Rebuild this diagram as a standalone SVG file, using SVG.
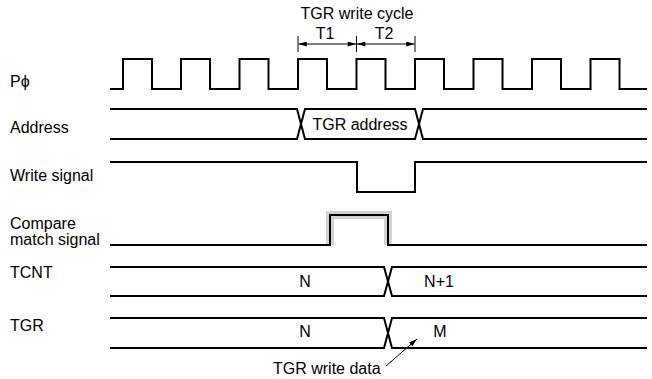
<svg xmlns="http://www.w3.org/2000/svg" width="652" height="379" viewBox="0 0 652 379">
<style>
text{font-family:"Liberation Sans",Arial,sans-serif;font-size:16px;fill:#000}
.w{fill:none;stroke:#000;stroke-width:2;stroke-linejoin:miter}
.t{fill:none;stroke:#000;stroke-width:1}
.m{text-anchor:middle}
</style>
<defs>
<marker id="ah" viewBox="0 0 10 6" refX="10" refY="3" markerWidth="10" markerHeight="5" markerUnits="userSpaceOnUse" orient="auto-start-reverse"><path d="M0,0 L10,3 L0,6 z" fill="#000"/></marker>
</defs>
<rect width="652" height="379" fill="#fff"/>
<g id="labels">
<text x="10" y="87">Pϕ</text>
<text x="10" y="133">Address</text>
<text x="10" y="181">Write signal</text>
<text x="10" y="229">Compare</text>
<text x="10" y="245">match signal</text>
<text x="10" y="278">TCNT</text>
<text x="10" y="331">TGR</text>
</g>
<g id="cycle">
<text class="m" x="357" y="19">TGR write cycle</text>
<text class="m" x="325" y="39">T1</text>
<text class="m" x="384" y="39">T2</text>
<path class="t" d="M298,36V52M356.5,36V52M415,36V52"/>
<line class="t" x1="298.5" y1="44" x2="356" y2="44" marker-start="url(#ah)" marker-end="url(#ah)"/>
<line class="t" x1="357" y1="44" x2="414.5" y2="44" marker-start="url(#ah)" marker-end="url(#ah)"/>
</g>
<g id="clock">
<path class="w" d="M110,89H123V59H152V89H181V59H210V89H239.5V59H268.5V89H298V59H327V89H356.5V59H385.5V89H415V59H444V89H473.5V59H502.5V89H532V59H561V89H590.5V59H619.5V89H647"/>
</g>
<g id="address">
<path class="w" d="M110,109H297L305,139H415L423,109H647M110,139H297L305,109H415L423,139H647"/>
<text class="m" x="360" y="130">TGR address</text>
</g>
<g id="write">
<path class="w" d="M110,162H357V192H415V162H647"/>
</g>
<g id="compare">
<path d="M330,245V215H388V245" fill="none" stroke="#d2d2d2" stroke-width="8"/>
<path class="w" d="M110,245H330V215H388V245H647"/>
</g>
<g id="tcnt">
<path class="w" d="M110,267H384L392,296H647M110,296H384L392,267H647"/>
<text class="m" x="305" y="287">N</text>
<text class="m" x="439" y="287">N+1</text>
</g>
<g id="tgr">
<path class="w" d="M110,318H384L392,348H647M110,348H384L392,318H647"/>
<text class="m" x="305" y="337">N</text>
<text class="m" x="440" y="337">M</text>
</g>
<g id="connectors">
<line class="t" x1="386" y1="366" x2="417" y2="339" marker-end="url(#ah)"/>
<text x="273" y="374">TGR write data</text>
</g>
</svg>
